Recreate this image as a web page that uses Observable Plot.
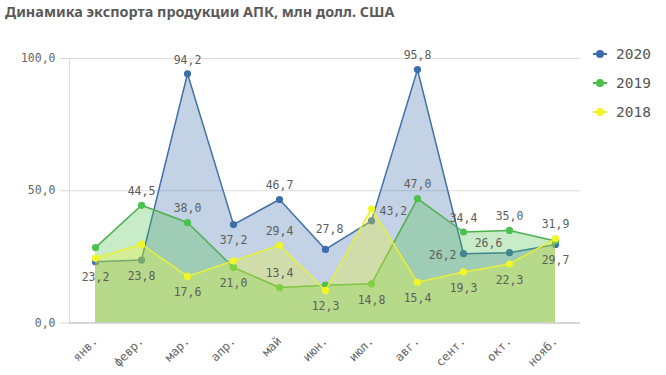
<!DOCTYPE html>
<html>
<head>
<meta charset="utf-8">
<script src="https://cdn.jsdelivr.net/npm/d3@7"></script>
<script src="https://cdn.jsdelivr.net/npm/@observablehq/plot@0.6"></script>
<style>
  html, body { margin: 0; padding: 0; background: #fff; }
  #wrap { position: relative; width: 666px; height: 375px; overflow: hidden; }
  #title { position: absolute; left: 5px; top: 2px; font-family: "Noto Sans", sans-serif; font-weight: bold; font-size: 14.4px; color: #5a5a5a; white-space: nowrap; }
  #legend { position: absolute; left: 592px; top: 39px; font-family: "DejaVu Sans Mono", monospace; font-size: 14.5px; color: #555; }
  .li { display: flex; align-items: center; height: 29px; }
  .li svg { margin-right: 8px; }
</style>
</head>
<body>
<div id="wrap">
  <div id="title"></div>
  <div id="chart"></div>
  <div id="legend"></div>
</div>
<script>
const titleText = "Динамика экспорта продукции АПК, млн долл. США";
const months = ["янв.", "февр.", "мар.", "апр.", "май", "июн.", "июл.", "авг.", "сент.", "окт.", "нояб."];
const seriesNames = ["2020", "2019", "2018"];
const values2020 = [23.2, 23.8, 94.2, 37.2, 46.7, 27.8, 38.6, 95.8, 26.2, 26.6, 29.7];
const values2019 = [28.5, 44.5, 38.0, 21.0, 13.4, 14.3, 14.8, 47.0, 34.4, 35.0, 31.0];
const values2018 = [24.5, 29.8, 17.6, 23.5, 29.4, 12.3, 43.2, 15.4, 19.3, 22.3, 31.9];
const yTicks = [0, 50, 100];

// styling (not data)
const lineColors = {"2020": "#4070a8", "2019": "#4fb050", "2018": "#e6f03a"};
const dotColors  = {"2020": "#3c6dab", "2019": "#4cc04c", "2018": "#f0f62a"};
const fillColors = {"2020": "#3e6ea8", "2019": "#4cbe4c", "2018": "#eef52a"};
const labelPlace = {
  "2020": ["b", "b", "a", "b", "a", "a2", null, "a", "l", "ul", "b"],
  "2019": [null, "a", "a", "b", "a", null, "b", "a", "a", "a", null],
  "2018": [null, null, "b", null, "a", "b", "r", "b", "b", "b", "a"]
};
const placements = {
  a:  {dx: 0,   dy: -14, anchor: "middle"},
  a2: {dx: 4,   dy: -20, anchor: "middle"},
  b:  {dx: 0,   dy: 16,  anchor: "middle"},
  l:  {dx: -7,  dy: 2,   anchor: "end"},
  r:  {dx: 8,   dy: 3,   anchor: "start"},
  ul: {dx: -21, dy: -9,  anchor: "middle"}
};

const seriesValues = {"2020": values2020, "2019": values2019, "2018": values2018};
const rows = seriesNames.flatMap(s => months.map((m, i) => ({
  series: s, month: m, value: seriesValues[s][i], place: labelPlace[s][i]
})));
const fmt = v => v.toFixed(1).replace(".", ",");

document.getElementById("title").textContent = titleText;

const seriesMarks = seriesNames.flatMap(s => {
  const d = rows.filter(r => r.series === s);
  return [
    Plot.areaY(d, {x: "month", y: "value", fill: fillColors[s], fillOpacity: 0.31}),
    Plot.lineY(d, {x: "month", y: "value", stroke: lineColors[s], strokeWidth: 1.5}),
    Plot.dot(d, {x: "month", y: "value", r: 3.6, fill: dotColors[s], stroke: "none"})
  ];
});

const labelMarks = Object.entries(placements).map(([k, p]) =>
  Plot.text(rows.filter(r => r.place === k), {
    x: "month", y: "value", text: d => fmt(d.value),
    dx: p.dx, dy: p.dy, textAnchor: p.anchor,
    fill: "#5e5e5e", fontSize: 11.5
  })
);

const chart = Plot.plot({
  width: 666,
  height: 375,
  marginLeft: 69,
  marginRight: 86,
  marginTop: 58,
  marginBottom: 52.5,
  style: {fontFamily: "DejaVu Sans Mono, monospace", fontSize: "11.5px", color: "#666", background: "transparent"},
  x: {type: "point", domain: months, padding: 0.5},
  y: {domain: [0, 100]},
  marks: [
    Plot.gridY(yTicks, {stroke: "#dcdcdc", strokeOpacity: 1}),
    Plot.frame({anchor: "left", stroke: "#dcdcdc"}),
    ...seriesMarks,
    Plot.ruleY([0], {stroke: "#cfcfcf", strokeWidth: 1.5}),
    Plot.axisY(yTicks, {tickFormat: fmt, tickSize: 9, tickPadding: 5, stroke: "#d6d6d6", fill: "#666", label: null, fontSize: 11.5}),
    Plot.axisX({tickRotate: -45, tickSize: 0, tickPadding: 16, fill: "#666", label: null, fontSize: 12}),
    ...labelMarks
  ]
});
document.getElementById("chart").appendChild(chart);

const legend = document.getElementById("legend");
seriesNames.forEach(s => {
  const item = document.createElement("div");
  item.className = "li";
  item.innerHTML = `<svg width="16" height="10"><line x1="1" y1="5" x2="15" y2="5" stroke="${lineColors[s]}" stroke-width="2"/><circle cx="8" cy="5" r="4" fill="${dotColors[s]}"/></svg><span>${s}</span>`;
  legend.appendChild(item);
});
</script>
</body>
</html>
